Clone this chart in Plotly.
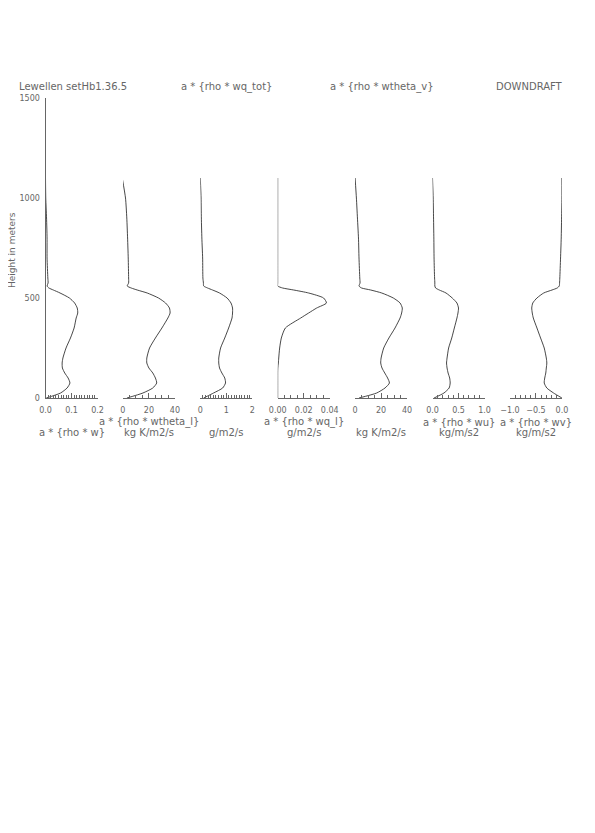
import plotly.graph_objects as go

W, H = 595, 833
OFF = 8  # browser default body margin offset compensation

heights = [0, 25, 50, 75, 100, 125, 150, 175, 200, 250, 300, 350, 400, 425, 450,
           475, 500, 525, 540, 550, 560, 575, 600, 700, 800, 900, 1000, 1100]

a_rho_w = [0.003, 0.058, 0.083, 0.094, 0.087, 0.074, 0.065, 0.064, 0.067, 0.079, 0.096, 0.110,
           0.118, 0.124, 0.122, 0.112, 0.092, 0.056, 0.030, 0.013, 0.006, 0.010, 0.009, 0.006,
           0.006, 0.004, 0.001, 0.0]
a_rho_wtheta_l = [3.1, 15.4, 23, 26, 25, 23, 20, 18.4, 18.4, 20.5, 25, 30, 34.6, 36.3, 35.8,
                  32.8, 27.4, 18.7, 11, 6.4, 3.3, 4.4, 4.4, 4.1, 3.6, 3.0, 2.0, -0.5]
a_rho_wq_tot = [0.13, 0.51, 0.86, 0.97, 0.94, 0.83, 0.74, 0.71, 0.71, 0.78, 0.94, 1.09, 1.22,
                1.24, 1.24, 1.18, 1.03, 0.74, 0.47, 0.28, 0.13, 0.12, 0.10, 0.09, 0.06, 0.04,
                0.03, 0.0]
a_rho_wq_l = [0, 0, 0, 0, 0, 0, 0.0001, 0.0005, 0.0008, 0.0015, 0.0028, 0.0059, 0.0177, 0.0238,
              0.030, 0.0375, 0.0353, 0.0238, 0.0123, 0.0038, 0, 0, 0, 0, 0, 0, 0, 0]
a_rho_wtheta_v = [3.0, 16.6, 23, 26.4, 25, 22.8, 20.7, 19.7, 20, 22, 26, 30.7, 34.6, 35.8, 36.3,
                  34.6, 29.4, 20.5, 12, 5, 3, 3.8, 3.6, 3.0, 2.6, 1.8, 1.0, 0.0]
a_rho_wu = [0.03, 0.22, 0.32, 0.34, 0.33, 0.30, 0.28, 0.27, 0.28, 0.31, 0.37, 0.42, 0.47, 0.49,
            0.50, 0.47, 0.38, 0.26, 0.13, 0.06, 0.045, 0.045, 0.04, 0.03, 0.026, 0.02, 0.013, 0.0]
a_rho_wv = [0.0, -0.16, -0.29, -0.34, -0.33, -0.31, -0.30, -0.29, -0.30, -0.34, -0.41, -0.48,
            -0.55, -0.57, -0.58, -0.56, -0.48, -0.35, -0.19, -0.09, -0.05, -0.045, -0.04, -0.026,
            -0.013, -0.006, 0.0, 0.0]

series = [a_rho_w, a_rho_wtheta_l, a_rho_wq_tot, a_rho_wq_l, a_rho_wtheta_v, a_rho_wu, a_rho_wv]
x_ranges = [[0, 0.2], [0, 40], [0, 2], [0, 0.04], [0, 40], [0, 1], [-1, 0]]
major_ticks = [[0, 0.1, 0.2], [0, 20, 40], [0, 1, 2], [0, 0.02, 0.04], [0, 20, 40], [0, 0.5, 1.0], [-1.0, -0.5, 0.0]]
tick_labels = [["0.0", "0.1", "0.2"], ["0", "20", "40"], ["0", "1", "2"], ["0.00", "0.02", "0.04"],
               ["0", "20", "40"], ["0.0", "0.5", "1.0"], ["\u22121.0", "\u22120.5", "0.0"]]
minor_steps = [0.01, 5, 0.1, 0.005, 5, 0.1, 0.1]
label_line1 = ["", "a * {rho * wtheta_l}", "", "a * {rho * wq_l}", "", "a * {rho * wu}", "a * {rho * wv}"]
label_line2 = ["a * {rho * w}", "kg K/m2/s", "g/m2/s", "g/m2/s", "kg K/m2/s", "kg/m/s2", "kg/m/s2"]
y_ticks = [0, 500, 1000, 1500]
y_tick_labels = ["0", "500", "1000", "1500"]

FONT = "DejaVu Sans"
TXT = "#666666"
LINE = "#333333"


def px_x(p):
    return (p - OFF) / W


def px_y(p):
    return 1 - (p - OFF) / H


fig = go.Figure()
layout = dict(width=W, height=H, margin=dict(l=0, r=0, t=0, b=0, pad=0), autosize=False,
              paper_bgcolor="white", plot_bgcolor="white", showlegend=False,
              font=dict(family=FONT, size=10, color=TXT))

ytop, ybot = 98, 398
ydom = [px_y(ybot), px_y(ytop)]
annotations = []
for i in range(7):
    x0 = 45.5 + 77.4 * i
    x1 = x0 + 52
    sfx = "" if i == 0 else str(i + 1)
    fig.add_trace(go.Scatter(x=series[i], y=heights, mode="lines",
                             line=dict(color=LINE, width=0.9, shape="spline", smoothing=0.6),
                             xaxis="x" + sfx, yaxis="y" + sfx, hoverinfo="skip"))
    lo, hi = x_ranges[i]
    n = int(round((hi - lo) / minor_steps[i]))
    minor_vals = [lo + k * minor_steps[i] for k in range(n + 1)]
    layout["xaxis" + sfx] = dict(
        domain=[px_x(x0), px_x(x1)], range=[lo, hi], anchor="y" + sfx, automargin=False,
        showgrid=False, zeroline=False, showline=True, linecolor=TXT, linewidth=1,
        tickmode="array", tickvals=major_ticks[i], ticktext=tick_labels[i],
        ticks="inside", ticklen=5, tickwidth=1, tickcolor=TXT,
        tickfont=dict(family=FONT, size=8, color=TXT), ticklabelstandoff=4,
        minor=dict(tickmode="array", tickvals=minor_vals, ticks="inside", ticklen=3,
                   tickwidth=1, tickcolor=TXT, showgrid=False),
    )
    ydict = dict(domain=ydom, range=[0, 1500], anchor="x" + sfx, showgrid=False, zeroline=False,
                 automargin=False)
    if i == 0:
        ydict.update(showline=True, linecolor=TXT, linewidth=1, tickmode="array",
                     tickvals=y_ticks, ticktext=y_tick_labels, ticks="",
                     tickfont=dict(family=FONT, size=8, color=TXT), ticklabelstandoff=3)
    else:
        ydict.update(visible=False)
    layout["yaxis" + sfx] = ydict
    cx = px_x((x0 + x1) / 2)
    if label_line1[i]:
        annotations.append(dict(text=label_line1[i], x=cx, y=px_y(422), xref="paper", yref="paper",
                                showarrow=False, xanchor="center", yanchor="middle",
                                font=dict(family=FONT, size=10, color=TXT)))
    annotations.append(dict(text=label_line2[i], x=cx, y=px_y(432), xref="paper", yref="paper",
                            showarrow=False, xanchor="center", yanchor="middle",
                            font=dict(family=FONT, size=10, color=TXT)))

top_titles = [("Lewellen setHb1.36.5", 17, "left"), ("a * {rho * wq_tot}", 226.5, "center"),
              ("a * {rho * wtheta_v}", 381.5, "center"), ("DOWNDRAFT", 565, "right")]
for txt, px, anc in top_titles:
    annotations.append(dict(text=txt, x=px_x(px), y=px_y(87), xref="paper", yref="paper",
                            showarrow=False, xanchor=anc, yanchor="middle",
                            font=dict(family=FONT, size=10, color=TXT)))
annotations.append(dict(text="Height in meters", x=px_x(12), y=px_y(250), xref="paper", yref="paper",
                        showarrow=False, textangle=-90, xanchor="center", yanchor="middle",
                        font=dict(family=FONT, size=9, color=TXT)))
layout["annotations"] = annotations
fig.update_layout(**layout)
fig.write_html("out.html")
